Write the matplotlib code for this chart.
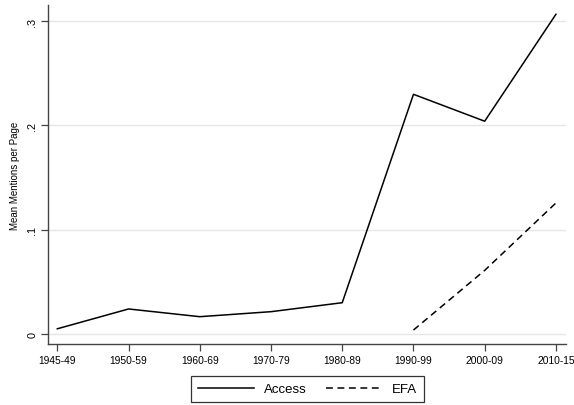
import numpy as np
import matplotlib.pyplot as plt

plt.rcParams['font.family'] = ['Liberation Sans', 'DejaVu Sans']

periods = ["1945-49", "1950-59", "1960-69", "1970-79", "1980-89", "1990-99", "2000-09", "2010-15"]
access = [0.005, 0.024, 0.0166, 0.0214, 0.030, 0.2298, 0.204, 0.3065]
efa_periods = ["1990-99", "2000-09", "2010-15"]
efa = [0.0038, 0.061, 0.1256]

x_all = np.arange(len(periods))
x_efa = [periods.index(p) for p in efa_periods]

fig = plt.figure(figsize=(5.74, 4.06), dpi=100)
ax = fig.add_axes([0.0842, 0.1502, 0.9013, 0.835])

ax.plot(x_all, access, color="black", linewidth=1.1, label="Access")
ax.plot(x_efa, efa, color="black", linewidth=1.1, linestyle=(0, (4.5, 3.0)), label="EFA")

ax.set_xlim(-0.126, 7.137)
ax.set_ylim(-0.0096, 0.3154)
ax.set_xticks(x_all)
ax.set_xticklabels(periods, fontsize=7.4)
ax.set_yticks([0, 0.1, 0.2, 0.3])
ax.set_yticklabels(["0", ".1", ".2", ".3"], fontsize=7.8, rotation=90, va="center")
ax.set_ylabel("Mean Mentions per Page", fontsize=7, labelpad=5)

ax.grid(axis="y", color="#e6e6e6", linewidth=1.0)
ax.set_axisbelow(True)
for s in ["top", "right"]:
    ax.spines[s].set_visible(False)
for s in ["left", "bottom"]:
    ax.spines[s].set_color("#444444")
    ax.spines[s].set_linewidth(1.0)
ax.tick_params(axis="both", length=5, width=0.9, color="#444444", pad=3)

leg = fig.legend(loc="center", bbox_to_anchor=(0.5357, 0.0394), ncol=2, fontsize=9.5,
                 frameon=True, fancybox=False, edgecolor="black", handlelength=4.3,
                 columnspacing=1.5, borderpad=0.5, handletextpad=0.7)
leg.get_frame().set_linewidth(0.9)

fig.savefig("out.png", dpi=100)
